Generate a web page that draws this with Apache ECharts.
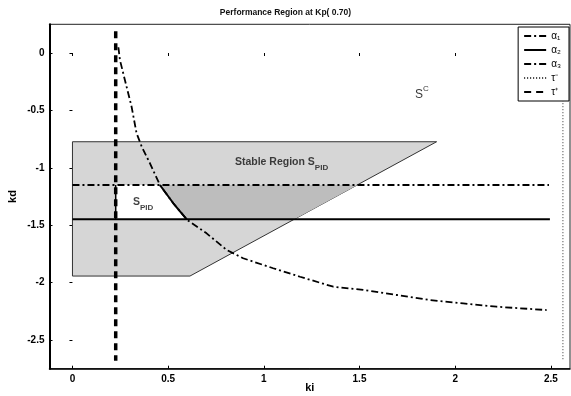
<!DOCTYPE html>
<html>
<head>
<meta charset="utf-8">
<script src="https://cdn.jsdelivr.net/npm/echarts@6/dist/echarts.min.js"></script>
<style>
html,body{margin:0;padding:0;background:#fff;}
#chart{width:571px;height:396px;}
</style>
</head>
<body>
<div id="chart"></div>
<script>
// ---- data (ki, kd) ----
const xTickValues = [0, 0.5, 1, 1.5, 2, 2.5];
const yTickValues = [-2.5, -2, -1.5, -1, -0.5, 0];

// stable region S_PID (polygon vertices)
const regionKi = [0, 1.903, 0.614, 0];
const regionKd = [-0.773, -0.773, -1.943, -1.943];

// darker band inside stable region
const bandKi = [0.457, 1.49, 1.16, 0.597, 0.527];
const bandKd = [-1.15, -1.15, -1.449, -1.449, -1.309];

// performance region S'_PID (white)
const spidKi = [0.226, 0.457, 0.527, 0.597, 0.226];
const spidKd = [-1.15, -1.15, -1.309, -1.449, -1.449];

// alpha1 curve
const alpha1Ki = [0.240, 0.248, 0.274, 0.309, 0.335, 0.362, 0.405, 0.457, 0.527, 0.600, 0.701, 0.806, 0.892, 1.049, 1.189, 1.363, 1.519, 1.694, 1.868, 2.042, 2.216, 2.478];
const alpha1Kd = [0.05, -0.061, -0.235, -0.468, -0.699, -0.816, -0.961, -1.150, -1.309, -1.455, -1.571, -1.716, -1.788, -1.875, -1.949, -2.036, -2.064, -2.108, -2.152, -2.181, -2.210, -2.239];

// alpha1 part bounding S'_PID (solid)
const boundKi = [0.457, 0.527, 0.597];
const boundKd = [-1.150, -1.309, -1.449];
const leftBoundKi = [0.226, 0.226];
const leftBoundKd = [-1.15, -1.449];

// alpha2 (solid), alpha3 (dash-dot) horizontal lines
const alpha2Ki = [0, 2.495];
const alpha2Kd = [-1.449, -1.449];
const alpha3Ki = [0, 2.49];
const alpha3Kd = [-1.15, -1.15];

// tau lines
const tauPlusKi = [0.226, 0.226];
const tauPlusKd = [0.19, -2.68];
const tauMinusKi = [2.563, 2.563];
const tauMinusKd = [0.19, -2.68];

const legendNames = ['α₁', 'α₂', 'α₃', 'τ⁻', 'τ⁺'];

// ---- helpers ----
const zip = (a, b) => a.map((v, i) => [v, b[i]]);
const FONT = 'Liberation Sans';

function polygonSeries(ki, kd, fill, stroke, lw, z) {
  return {
    type: 'custom',
    z: z,
    silent: true,
    data: zip(ki, kd),
    encode: { x: 0, y: 1 },
    renderItem: function (params, api) {
      if (params.dataIndex !== 0) return null;
      const pts = ki.map((k, i) => api.coord([k, kd[i]]));
      return {
        type: 'polygon',
        shape: { points: pts },
        style: { fill: fill, stroke: stroke, lineWidth: lw }
      };
    }
  };
}

function lineSeries(name, ki, kd, style, z) {
  return {
    name: name,
    type: 'line',
    z: z,
    symbol: 'none',
    silent: true,
    data: zip(ki, kd),
    itemStyle: { color: '#000', opacity: 0 },
    lineStyle: style
  };
}

const chart = echarts.init(document.getElementById('chart'), null, { renderer: 'canvas' });

const option = {
  animation: false,
  backgroundColor: '#fff',
  title: {
    text: 'Performance Region at Kp( 0.70)',
    left: 'center',
    top: 3,
    textStyle: { fontSize: 8.5, fontWeight: 'bold', color: '#111', fontFamily: FONT }
  },
  legend: {
    data: legendNames,
    orient: 'vertical',
    right: 2,
    top: 27,
    itemWidth: 22,
    itemHeight: 11,
    itemGap: 4,
    padding: [4, 8, 4, 5],
    borderColor: '#000',
    borderWidth: 1,
    borderRadius: 0,
    backgroundColor: '#fff',
    itemStyle: { opacity: 0 },
    textStyle: { fontSize: 10, color: '#000', fontFamily: FONT }
  },
  grid: {
    left: 49.5, right: 1, top: 24.3, bottom: 27.3,
    containLabel: false, outerBoundsMode: 'none',
    show: true, borderColor: '#222', borderWidth: 1, backgroundColor: 'transparent'
  },
  xAxis: [{
    type: 'value', min: -0.12, max: 2.6,
    name: 'ki', nameLocation: 'middle', nameGap: 14, nameMoveOverlap: false,
    nameTextStyle: { fontSize: 11, fontWeight: 'bold', color: '#000', fontFamily: FONT },
    axisLine: { show: true, onZero: false, lineStyle: { color: '#000', width: 1.5 } },
    axisTick: { show: true, inside: true, length: 3, customValues: xTickValues, lineStyle: { color: '#000' } },
    axisLabel: { customValues: xTickValues, fontSize: 10, fontWeight: 'bold', color: '#000', margin: 6, fontFamily: FONT,
      formatter: v => String(v) },
    splitLine: { show: false }
  }, {
    type: 'value', min: -0.12, max: 2.6, position: 'top',
    axisLine: { show: false },
    axisTick: { show: true, inside: true, length: 3, customValues: xTickValues, lineStyle: { color: '#000' } },
    axisLabel: { show: false },
    splitLine: { show: false }
  }],
  yAxis: [{
    type: 'value', min: -2.75, max: 0.25,
    name: 'kd', nameLocation: 'middle', nameGap: 31, nameRotate: 90, nameMoveOverlap: false,
    nameTextStyle: { fontSize: 11, fontWeight: 'bold', color: '#000', fontFamily: FONT },
    axisLine: { show: true, onZero: false, lineStyle: { color: '#000', width: 2 } },
    axisTick: { show: true, inside: true, length: 3, customValues: yTickValues, lineStyle: { color: '#000' } },
    axisLabel: { customValues: yTickValues, fontSize: 10, fontWeight: 'bold', color: '#000', margin: 5, fontFamily: FONT,
      formatter: v => String(v) },
    splitLine: { show: false }
  }, {
    type: 'value', min: -2.75, max: 0.25, position: 'right',
    axisLine: { show: false },
    axisTick: { show: true, inside: true, length: 3, customValues: yTickValues, lineStyle: { color: '#000' } },
    axisLabel: { show: false },
    splitLine: { show: false }
  }],
  series: [
    polygonSeries(regionKi, regionKd, '#d6d6d6', '#333', 1, 1),
    polygonSeries(bandKi, bandKd, '#bdbdbd', null, 0, 1),
    polygonSeries(spidKi, spidKd, '#ffffff', null, 0, 1),
    lineSeries('α₁', alpha1Ki, alpha1Kd, { color: '#000', width: 1.8, type: [7, 3, 2, 3] }, 3),
    lineSeries('α₂', alpha2Ki, alpha2Kd, { color: '#000', width: 2 }, 3),
    lineSeries('α₃', alpha3Ki, alpha3Kd, { color: '#000', width: 1.8, type: [7, 3, 2, 3] }, 3),
    lineSeries('τ⁻', tauMinusKi, tauMinusKd, { color: '#333', width: 1, type: [1, 2] }, 3),
    lineSeries('τ⁺', tauPlusKi, tauPlusKd, { color: '#000', width: 3.5, type: [7, 5] }, 3),
    lineSeries('boundary', boundKi, boundKd, { color: '#000', width: 2 }, 3),
    lineSeries('leftBoundary', leftBoundKi, leftBoundKd, { color: '#000', width: 1.5 }, 3),
    {
      type: 'scatter', z: 5, silent: true, symbolSize: 0,
      data: [
        { value: [1.79, -0.35], label: { formatter: '{s|S}{sup|C}' } },
        { value: [0.849, -0.969], label: { formatter: '{m|Stable Region S}{sub|PID}' } },
        { value: [0.316, -1.315], label: { formatter: '{m|S}{sub|PID}' } }
      ],
      label: {
        show: true, position: 'right', distance: 0, color: '#000',
        rich: {
          s: { fontSize: 12, lineHeight: 16, fontFamily: FONT, color: '#000', verticalAlign: 'bottom' },
          sup: { fontSize: 8, lineHeight: 8, fontFamily: FONT, color: '#000', verticalAlign: 'top' },
          m: { fontSize: 10.5, lineHeight: 15, fontWeight: 'bold', fontFamily: FONT, color: '#111', verticalAlign: 'top' },
          sub: { fontSize: 8, lineHeight: 10, fontWeight: 'bold', fontFamily: FONT, color: '#111', verticalAlign: 'bottom' }
        }
      }
    }
  ]
};
chart.setOption(option);
</script>
</body>
</html>
